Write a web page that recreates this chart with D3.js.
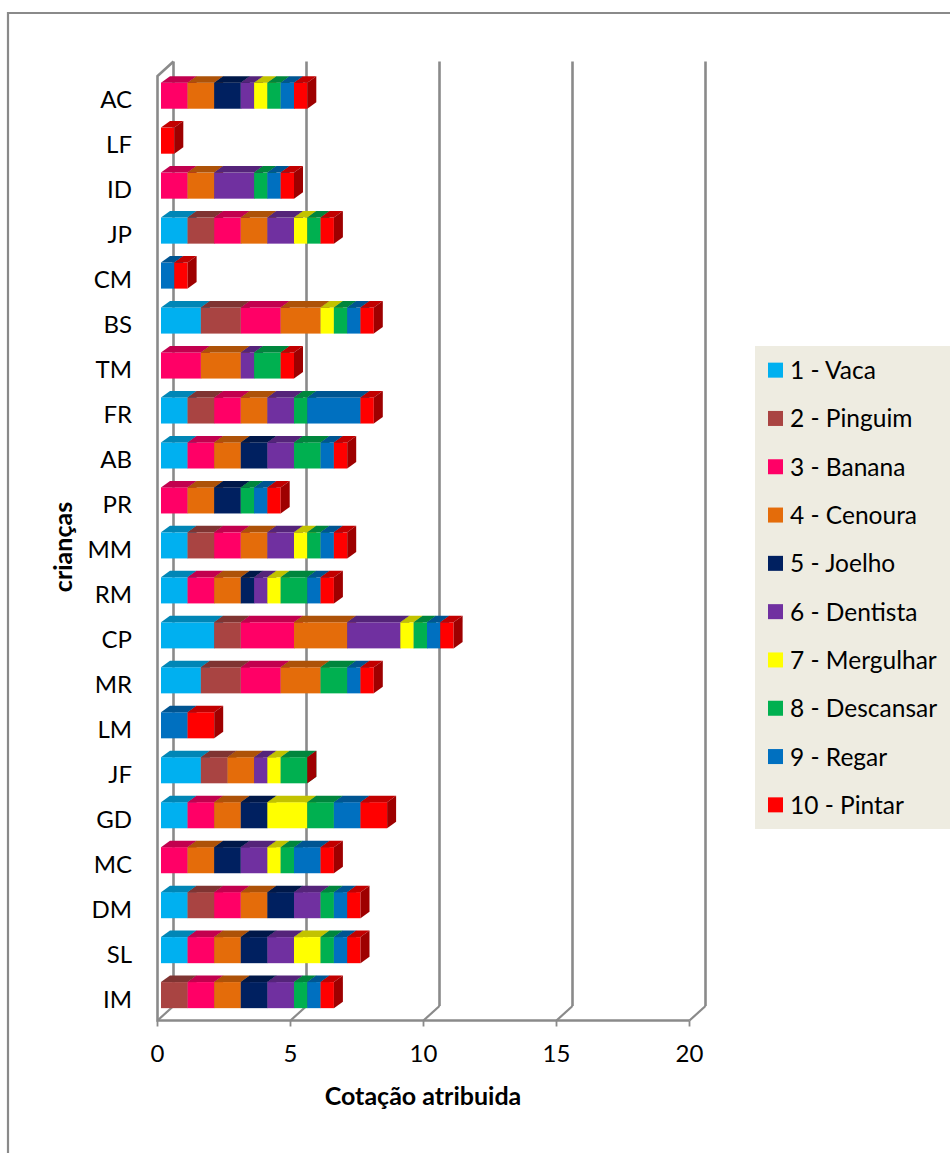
<!DOCTYPE html>
<html>
<head>
<meta charset="utf-8">
<script src="https://cdnjs.cloudflare.com/ajax/libs/d3/7.8.5/d3.min.js"></script>
<style>
html,body{margin:0;padding:0;background:#fff;}
svg{display:block;}
text{font-family:Lato,"Open Sans",sans-serif;fill:#000;}
</style>
</head>
<body>
<svg id="chart" width="950" height="1153"></svg>
<script>
// Children, listed from the top row to the bottom row
const children = ["AC","LF","ID","JP","CM","BS","TM","FR","AB","PR","MM","RM","CP","MR","LM","JF","GD","MC","DM","SL","IM"];

// Task names and their fill colours
const tasks = ["1 - Vaca","2 - Pinguim","3 - Banana","4 - Cenoura","5 - Joelho","6 - Dentista","7 - Mergulhar","8 - Descansar","9 - Regar","10 - Pintar"];
const taskColors = ["#00B0F0","#A94442","#FF0066","#E46C0A","#002060","#7030A0","#FFFF00","#00B050","#0070C0","#FF0000"];

// Score per child for each task, in the same order as the children
const vaca      = [0,0,0,1,0,1.5,0,1,1,0,1,1,2,1.5,0,1.5,1,0,1,1,0];
const pinguim   = [0,0,0,1,0,1.5,0,1,0,0,1,0,1,1.5,0,1,0,0,1,0,1];
const banana    = [1,0,1,1,0,1.5,1.5,1,1,1,1,1,2,1.5,0,0,1,1,1,1,1];
const cenoura   = [1,0,1,1,0,1.5,1.5,1,1,1,1,1,2,1.5,0,1,1,1,1,1,1];
const joelho    = [1,0,0,0,0,0,0,0,1,1,0,0.5,0,0,0,0,1,1,1,1,1];
const dentista  = [0.5,0,1.5,1,0,0,0.5,1,1,0,1,0.5,2,0,0,0.5,0,1,1,1,1];
const mergulhar = [0.5,0,0,0.5,0,0.5,0,0,0,0,0.5,0.5,0.5,0,0,0.5,1.5,0.5,0,1,0];
const descansar = [0.5,0,0.5,0.5,0,0.5,1,0.5,1,0.5,0.5,1,0.5,1,0,1,1,0.5,0.5,0.5,0.5];
const regar     = [0.5,0,0.5,0,0.5,0.5,0,2,0.5,0.5,0.5,0.5,0.5,0.5,1,0,1,1,0.5,0.5,0.5];
const pintar    = [0.5,0.5,0.5,0.5,0.5,0.5,0.5,0.5,0.5,0.5,0.5,0.5,0.5,0.5,1,0,1,0.5,0.5,0.5,0.5];
const scores = [vaca,pinguim,banana,cenoura,joelho,dentista,mergulhar,descansar,regar,pintar];

const xTicks = [0,5,10,15,20];

const svg = d3.select("#chart");
const gray = "#8A8A8A";

// Outer frame of the chart area
svg.append("path")
  .attr("d","M8,1153V13H950")
  .attr("fill","none").attr("stroke",gray).attr("stroke-width",2.2);

// Front floor edge runs along x; the walls sit one depth step behind it
const x = d3.scaleLinear().domain([0,20]).range([157.5,689.5]);
const floorY = 1020.5, topY = 76, depthX = 16, depthY = 14.5;

const walls = svg.append("g").attr("fill","none").attr("stroke",gray);

walls.selectAll("path.wall").data(xTicks).join("path")
  .attr("class","wall")
  .attr("stroke-width",2.6)
  .attr("d",d=>`M${x(d)+depthX},${topY-depthY}V${floorY-depthY}`);

walls.append("path").attr("stroke-width",2.6)
  .attr("d",`M${x(0)+depthX},${topY-depthY}L${x(0)},${topY}V${floorY}H${x(20)}`);

walls.selectAll("path.floor").data(xTicks).join("path")
  .attr("class","floor")
  .attr("stroke-width",2.2)
  .attr("d",d=>`M${x(d)},${floorY}L${x(d)+depthX},${floorY-depthY}`);

walls.selectAll("path.tick").data(xTicks).join("path")
  .attr("class","tick")
  .attr("stroke-width",1.8)
  .attr("d",d=>`M${x(d)},${floorY}v6`);

// Value axis labels
svg.append("g").selectAll("text").data(xTicks).join("text")
  .attr("x",d=>x(d)).attr("y",1062)
  .attr("text-anchor","middle").attr("font-size",24)
  .text(d=>d);

// Category rows
const y = d3.scaleBand().domain(children).range([73.2,1017.6]).paddingInner(0.42).paddingOuter(0.21);
const barOffset = 3.5, barDx = 9, barDy = 6.5;

svg.append("g").selectAll("text").data(children).join("text")
  .attr("x",132).attr("y",d=>y(d)+y.bandwidth()/2+12.5)
  .attr("text-anchor","end").attr("font-size",24)
  .text(d=>d);

// Stacked boxes with a darker top and a darker end cap
const stacked = d3.stack().keys(d3.range(tasks.length)).value((row,k)=>row[k])(
  children.map((_,i)=>scores.map(s=>s[i]))
);

const bars = svg.append("g");
const lastTask = tasks.length-1;
stacked.forEach((layer,k)=>{
  const color = d3.color(taskColors[k]);
  layer.forEach((seg,i)=>{
    const len = seg[1]-seg[0];
    // An empty final task still closes the box with its end cap
    if(!len && k!==lastTask) return;
    const x0 = barOffset+x(seg[0]), x1 = barOffset+x(seg[1]);
    const top = y(children[i]), h = y.bandwidth();
    bars.append("rect")
      .attr("x",x0).attr("y",top).attr("width",x1-x0).attr("height",h)
      .attr("fill",taskColors[k]);
    bars.append("path")
      .attr("d",`M${x0},${top}l${barDx},${-barDy}H${x1+barDx}L${x1},${top}Z`)
      .attr("fill",d3.rgb(color.r*0.76,color.g*0.76,color.b*0.76));
    bars.append("path")
      .attr("d",`M${x1},${top}l${barDx},${-barDy}v${h}l${-barDx},${barDy}Z`)
      .attr("fill",d3.rgb(color.r*0.62,color.g*0.62,color.b*0.62));
  });
});

// Legend panel
svg.append("rect").attr("x",755).attr("y",346).attr("width",195).attr("height",483).attr("fill","#EEECE1");
const legendY = d3.scaleBand().domain(tasks).range([346,829]);
const legend = svg.append("g").selectAll("g").data(tasks).join("g")
  .attr("transform",d=>`translate(0,${legendY(d)+legendY.bandwidth()/2})`);
legend.append("rect").attr("x",768).attr("y",-7.5).attr("width",15).attr("height",15)
  .attr("fill",(d,i)=>taskColors[i]);
legend.append("text").attr("x",790).attr("y",9).attr("font-size",24.5).text(d=>d);

// Axis titles
svg.append("text").attr("x",423).attr("y",1105)
  .attr("text-anchor","middle").attr("font-size",25).attr("font-weight",700)
  .text("Cotação atribuida");
svg.append("text").attr("transform","translate(72,547) rotate(-90)")
  .attr("text-anchor","middle").attr("font-size",25).attr("font-weight",700)
  .text("crianças");
</script>
</body>
</html>
